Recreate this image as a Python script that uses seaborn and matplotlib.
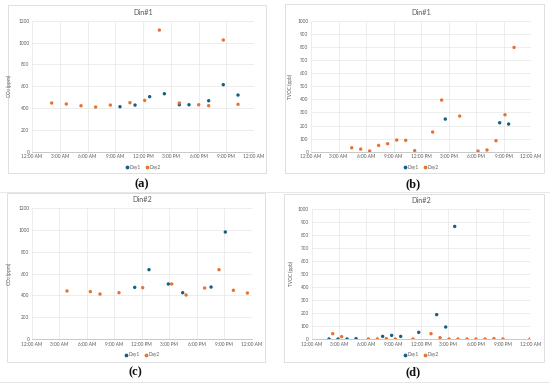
import matplotlib
matplotlib.use("Agg")
import matplotlib.pyplot as plt
import seaborn as sns
import pandas as pd
from matplotlib.patches import Rectangle
from matplotlib.lines import Line2D

# ---- data (hours since midnight, value) ----
a_day1_hours = [9.51, 11.14, 12.72, 14.31, 15.93, 16.97, 19.10, 20.68, 22.27]
a_day1_vals = [412, 427, 504, 531, 430, 430, 467, 614, 519]
a_day2_hours = [2.13, 3.71, 5.30, 6.88, 8.47, 10.59, 12.18, 13.77, 15.93, 18.02, 19.10, 20.68, 22.27]
a_day2_vals = [446, 437, 421, 409, 427, 449, 470, 1114, 446, 430, 421, 1023, 434]

b_day1_hours = [14.65, 20.58, 21.56]
b_day1_vals = [249, 221, 211]
b_day2_hours = [4.44, 5.42, 6.40, 7.38, 8.36, 9.35, 10.33, 11.31, 13.27, 14.25, 16.22, 18.22, 19.20, 20.18, 21.16, 22.15]
b_day2_vals = [30, 20, 5, 48, 61, 89, 87, 8, 150, 394, 272, 5, 13, 84, 282, 796]

c_day1_hours = [11.22, 12.78, 14.89, 16.46, 19.56, 21.12]
c_day1_vals = [473, 635, 504, 424, 476, 980]
c_day2_hours = [3.82, 6.37, 7.43, 9.50, 12.09, 15.26, 16.83, 18.86, 20.43, 22.00, 23.53]
c_day2_vals = [440, 434, 412, 424, 470, 504, 403, 467, 635, 446, 421]

d_day1_hours = [1.90, 2.89, 3.88, 4.87, 7.79, 8.78, 9.77, 11.75, 13.72, 14.71, 15.70]
d_day1_vals = [0, 0, 0, 3, 20, 28, 20, 51, 187, 92, 864]
d_day2_hours = [2.31, 3.29, 6.22, 7.21, 8.20, 9.18, 11.12, 13.10, 14.09, 15.08, 16.06, 17.05, 18.04, 19.03, 20.01, 21.00, 23.97]
d_day2_vals = [41, 18, 0, 0, 3, 0, 0, 41, 10, 0, 0, 0, 0, 0, 3, 0, 0]

x_ticks = [0, 3, 6, 9, 12, 15, 18, 21, 24]
x_labels = ["12:00 AM", "3:00 AM", "6:00 AM", "9:00 AM", "12:00 PM",
            "3:00 PM", "6:00 PM", "9:00 PM", "12:00 AM"]
series_names = ["Day1", "Day2"]
panel_titles = ["Din#1", "Din#1", "Din#2", "Din#2"]
panel_letters = ["(a)", "(b)", "(c)", "(d)"]
y_labels = ["CO$_2$ (ppm)", "TVOC (ppb)", "CO$_2$ (ppm)", "TVOC (ppb)"]
y_ticks_co2 = [0, 200, 400, 600, 800, 1000, 1200]
y_ticks_tvoc = [0, 100, 200, 300, 400, 500, 600, 700, 800, 900, 1000]

BLUE = "#156082"
ORANGE = "#E97132"
GRID = "#E6E6E6"
TXT = "#595959"

sns.set_theme(style="white")
plt.rcParams["font.family"] = ["Lato", "DejaVu Sans"]

fig = plt.figure(figsize=(5.5, 3.84), dpi=100)

def frame(x0, y0, x1, y1):
    r = Rectangle((x0 / 550, 1 - y1 / 384), (x1 - x0) / 550, (y1 - y0) / 384,
                  transform=fig.transFigure, fill=False, edgecolor="#DADADA",
                  linewidth=0.6, zorder=0)
    fig.add_artist(r)

panels = [
    dict(pos=[32, 20.7, 254, 151.7], box=[8, 5, 266, 173],
         d1=(a_day1_hours, a_day1_vals), d2=(a_day2_hours, a_day2_vals),
         yt=y_ticks_co2, cap=(142, 184)),
    dict(pos=[311, 20.7, 531, 151.7], box=[285, 4, 544, 173],
         d1=(b_day1_hours, b_day1_vals), d2=(b_day2_hours, b_day2_vals),
         yt=y_ticks_tvoc, cap=(413, 184)),
    dict(pos=[32, 208, 251.7, 339], box=[7, 193, 265, 362],
         d1=(c_day1_hours, c_day1_vals), d2=(c_day2_hours, c_day2_vals),
         yt=y_ticks_co2, cap=(135, 372)),
    dict(pos=[311.7, 208.7, 530.3, 339], box=[284, 194, 544, 362],
         d1=(d_day1_hours, d_day1_vals), d2=(d_day2_hours, d_day2_vals),
         yt=y_ticks_tvoc, cap=(413, 372)),
]

for i, p in enumerate(panels):
    x0, y0, x1, y1 = p["pos"]
    ax = fig.add_axes([x0 / 550, 1 - y1 / 384, (x1 - x0) / 550, (y1 - y0) / 384])
    frame(*p["box"])
    df = pd.concat([
        pd.DataFrame({"hour": p["d1"][0], "value": p["d1"][1], "series": series_names[0]}),
        pd.DataFrame({"hour": p["d2"][0], "value": p["d2"][1], "series": series_names[1]}),
    ])
    sns.scatterplot(data=df, x="hour", y="value", hue="series",
                    palette={series_names[0]: BLUE, series_names[1]: ORANGE},
                    s=6, marker="o", linewidth=0, ax=ax, legend=False, zorder=3)
    ax.set_xlim(0, 24)
    ax.set_ylim(p["yt"][0], p["yt"][-1])
    ax.set_xticks(x_ticks)
    ax.set_xticklabels(x_labels)
    ax.set_yticks(p["yt"])
    ax.tick_params(axis="both", labelsize=3.4, colors=TXT, length=0, pad=2)
    ax.grid(True, color=GRID, linewidth=0.5)
    ax.set_axisbelow(True)
    for s in ["top", "right", "left"]:
        ax.spines[s].set_visible(False)
    ax.spines["bottom"].set_color("#BFBFBF")
    ax.spines["bottom"].set_linewidth(0.6)
    ax.set_xlabel("")
    ax.set_ylabel(y_labels[i], fontsize=3.4, color=TXT, labelpad=3)
    ax.set_title(panel_titles[i], fontsize=5.2, color=TXT, pad=4)
    handles = [Line2D([], [], marker="o", linestyle="", color=BLUE, markersize=1.7),
               Line2D([], [], marker="o", linestyle="", color=ORANGE, markersize=1.7)]
    ax.legend(handles, series_names, loc="upper center", bbox_to_anchor=(0.5, -0.07),
              ncol=2, frameon=False, fontsize=3.4, labelcolor=TXT,
              handletextpad=0.2, columnspacing=0.8, handlelength=0.8)
    cx, cy = p["cap"]
    fig.text(cx / 550, 1 - cy / 384, panel_letters[i], ha="center", va="center",
             fontsize=9, fontweight="bold", family="Liberation Serif", color="#111111")

for yy in [192, 382]:
    fig.add_artist(Line2D([0.0, 1.0], [1 - yy / 384, 1 - yy / 384],
                          transform=fig.transFigure, color="#DDDDDD", linewidth=0.5))

fig.savefig("out.png", dpi=100)
